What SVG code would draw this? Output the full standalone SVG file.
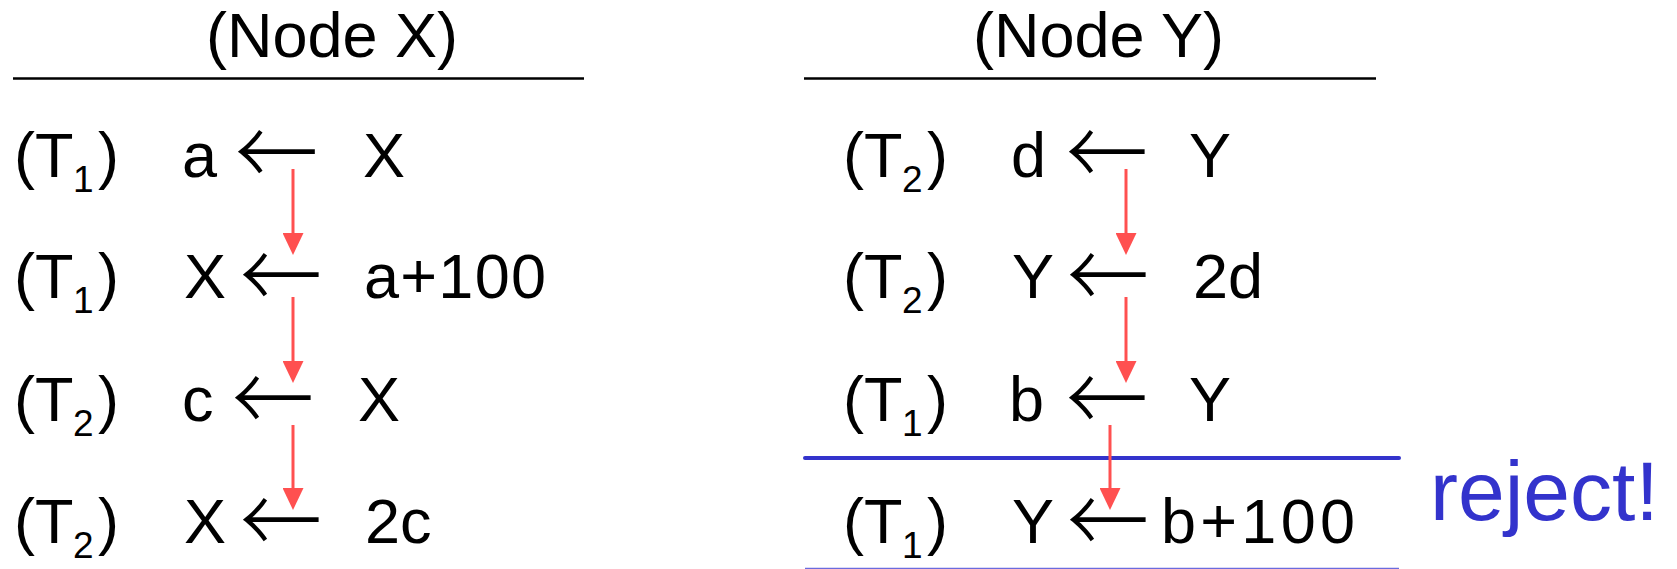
<svg xmlns="http://www.w3.org/2000/svg" width="1677" height="569" viewBox="0 0 1677 569">
<defs>
<style>
text{font-family:"Liberation Sans",Arial,sans-serif;font-size:63px;fill:#000}
.sub{font-size:37px}
.arr{font-family:"Noto Sans CJK SC","DejaVu Sans",sans-serif;font-size:72px;font-weight:300}
.rule{stroke:#000;stroke-width:2.5}
.conn{stroke:#ff5050;stroke-width:3;fill:none}
.blue{stroke:#3333cc;stroke-width:4;stroke-linecap:round}
.thin{stroke:#6b6bdd;stroke-width:1.5}
.rej{fill:#3333cc;font-size:84px}
</style>
<marker id="ah" markerUnits="userSpaceOnUse" viewBox="0 0 22 21" markerWidth="22" markerHeight="21" refX="18" refY="10.5" orient="auto"><path d="M0,0L22,10.5L0,21z" fill="#ff5050"/></marker>
</defs>
<rect width="1677" height="569" fill="#fff"/>

<g id="headX">
<text x="206" y="57">(Node X)</text>
<line class="rule" x1="13" y1="78.5" x2="584" y2="78.5"/>
</g>
<g id="headY">
<text x="973" y="57">(Node Y)</text>
<line class="rule" x1="804" y1="78.5" x2="1376" y2="78.5"/>
</g>

<g id="x1">
<text x="14" y="177">(T<tspan class="sub" x="73" y="192">1</tspan><tspan x="98" y="177">)</tspan></text>
<text x="182" y="177">a</text>
<text class="arr" transform="translate(235,187) scale(1.3)" textLength="64" lengthAdjust="spacingAndGlyphs">←</text>
<text x="363" y="177">X</text>
</g>
<g id="x2">
<text x="14" y="298">(T<tspan class="sub" x="73" y="313">1</tspan><tspan x="98" y="298">)</tspan></text>
<text x="184" y="298">X</text>
<text class="arr" transform="translate(240,310) scale(1.3)" textLength="63" lengthAdjust="spacingAndGlyphs">←</text>
<text x="364" y="298" textLength="182" lengthAdjust="spacing">a+100</text>
</g>
<g id="x3">
<text x="14" y="421">(T<tspan class="sub" x="73" y="436">2</tspan><tspan x="98" y="421">)</tspan></text>
<text x="182" y="421">c</text>
<text class="arr" transform="translate(232,433) scale(1.3)" textLength="63" lengthAdjust="spacingAndGlyphs">←</text>
<text x="358" y="421">X</text>
</g>
<g id="x4">
<text x="14" y="543">(T<tspan class="sub" x="73" y="558">2</tspan><tspan x="98" y="543">)</tspan></text>
<text x="184" y="543">X</text>
<text class="arr" transform="translate(240,555) scale(1.3)" textLength="63" lengthAdjust="spacingAndGlyphs">←</text>
<text x="365" y="543">2c</text>
</g>

<g id="y1">
<text x="843" y="177">(T<tspan class="sub" x="902" y="192">2</tspan><tspan x="927" y="177">)</tspan></text>
<text x="1011" y="177">d</text>
<text class="arr" transform="translate(1066,187) scale(1.3)" textLength="63" lengthAdjust="spacingAndGlyphs">←</text>
<text x="1189" y="177">Y</text>
</g>
<g id="y2">
<text x="843" y="298">(T<tspan class="sub" x="902" y="313">2</tspan><tspan x="927" y="298">)</tspan></text>
<text x="1012" y="298">Y</text>
<text class="arr" transform="translate(1067,310) scale(1.3)" textLength="63" lengthAdjust="spacingAndGlyphs">←</text>
<text x="1193" y="298">2d</text>
</g>
<g id="y3">
<text x="843" y="421">(T<tspan class="sub" x="902" y="436">1</tspan><tspan x="927" y="421">)</tspan></text>
<text x="1009" y="421">b</text>
<text class="arr" transform="translate(1066,433) scale(1.3)" textLength="63" lengthAdjust="spacingAndGlyphs">←</text>
<text x="1189" y="421">Y</text>
</g>
<g id="y4">
<text x="843" y="543">(T<tspan class="sub" x="902" y="558">1</tspan><tspan x="927" y="543">)</tspan></text>
<text x="1012" y="543">Y</text>
<text class="arr" transform="translate(1067,555) scale(1.3)" textLength="63" lengthAdjust="spacingAndGlyphs">←</text>
<text x="1161" y="543" textLength="194" lengthAdjust="spacing">b+100</text>
</g>

<g id="reject">
<line class="blue" x1="805" y1="458" x2="1399" y2="458"/>
<line class="thin" x1="805" y1="568.5" x2="1399" y2="568.5"/>
<text class="rej" x="1430" y="520">reject!</text>
</g>

<g id="connectors">
<line class="conn" x1="293" y1="169" x2="293" y2="251" marker-end="url(#ah)"/>
<line class="conn" x1="293" y1="297" x2="293" y2="379" marker-end="url(#ah)"/>
<line class="conn" x1="293" y1="425" x2="293" y2="506" marker-end="url(#ah)"/>
<line class="conn" x1="1126" y1="169" x2="1126" y2="251" marker-end="url(#ah)"/>
<line class="conn" x1="1126" y1="297" x2="1126" y2="379" marker-end="url(#ah)"/>
<line class="conn" x1="1110" y1="425" x2="1110" y2="506" marker-end="url(#ah)"/>
</g>
</svg>
